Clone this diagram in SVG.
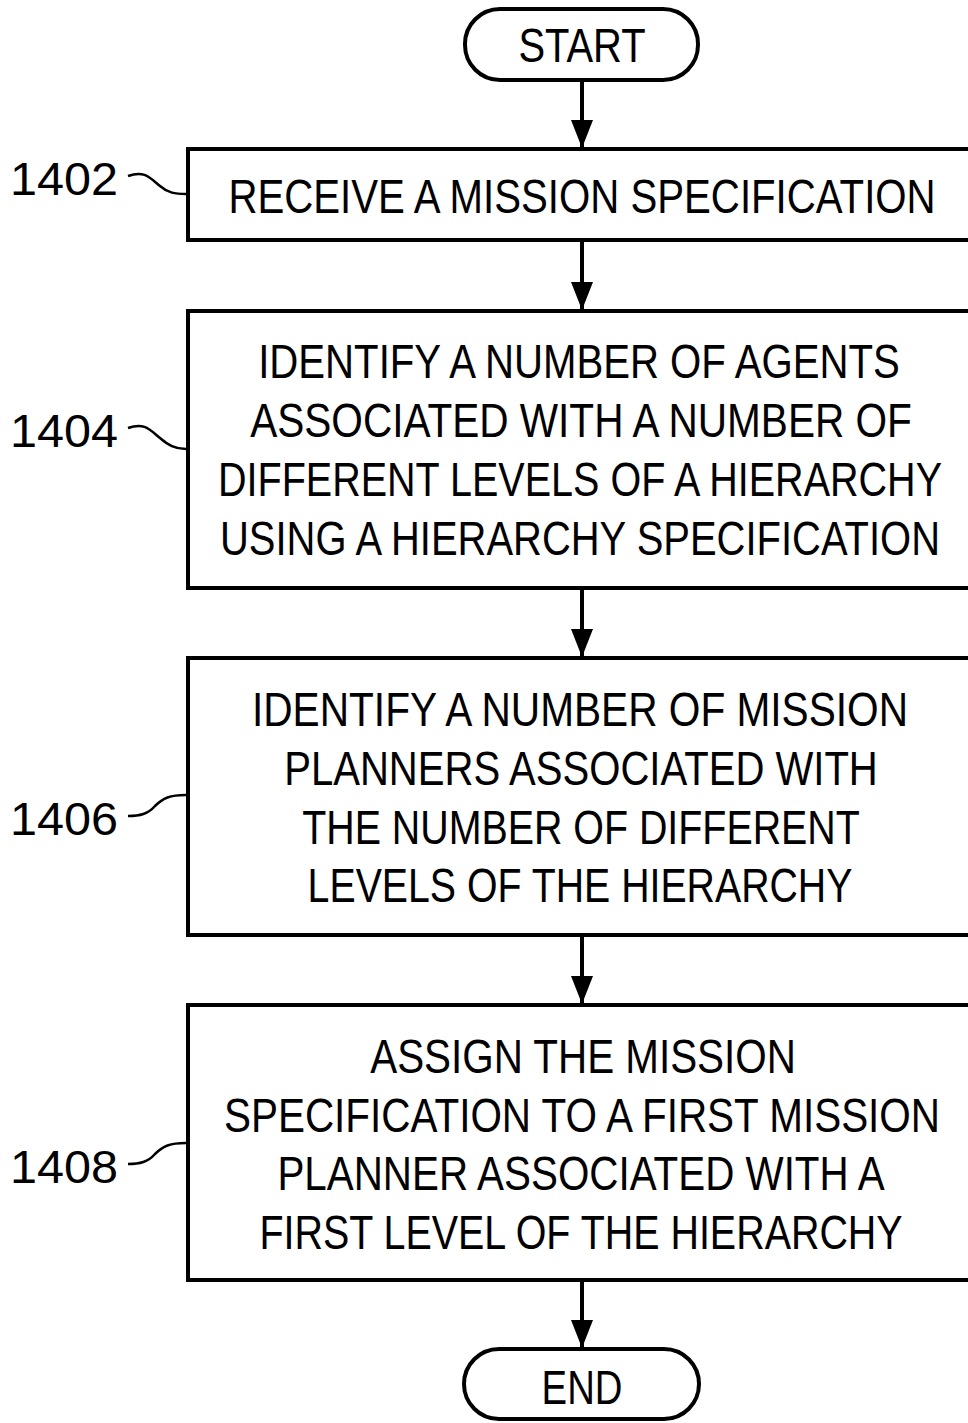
<svg xmlns="http://www.w3.org/2000/svg" width="968" height="1423" viewBox="0 0 968 1423">
<style>
.box{fill:#fff;stroke:#000;stroke-width:4}
.term{fill:#fff;stroke:#000;stroke-width:4}
.t{font-family:"Liberation Sans",Arial,sans-serif;font-size:48px;fill:#000;text-anchor:middle}
.lbl{font-family:"Liberation Sans",Arial,sans-serif;font-size:47px;fill:#000}
.conn{stroke:#000;stroke-width:4;fill:none}
.sq{stroke:#000;stroke-width:2.5;fill:none}
</style>
<defs>
<marker id="ah" markerUnits="userSpaceOnUse" markerWidth="28" markerHeight="22" refX="27" refY="11" orient="auto" viewBox="0 0 28 22">
<path d="M0,0 L28,11 L0,22 Z" fill="#000"/>
</marker>
</defs>
<g id="connectors">
<line class="conn" x1="582" y1="81" x2="582" y2="147" marker-end="url(#ah)"/>
<line class="conn" x1="582" y1="242" x2="582" y2="309" marker-end="url(#ah)"/>
<line class="conn" x1="582" y1="590" x2="582" y2="656" marker-end="url(#ah)"/>
<line class="conn" x1="582" y1="937" x2="582" y2="1003" marker-end="url(#ah)"/>
<line class="conn" x1="582" y1="1282" x2="582" y2="1347" marker-end="url(#ah)"/>
</g>
<g id="start">
<rect class="term" x="465" y="9" width="233" height="71" rx="35" ry="35"/>
<text class="t" transform="translate(582,62) scale(0.8,1)" x="0" y="0" textLength="159" lengthAdjust="spacingAndGlyphs">START</text>
</g>
<g id="n1402">
<path class="box" d="M968,149 H188 V240 H968"/>
<text class="t" transform="translate(582,213) scale(0.8,1)" x="0" y="0" textLength="884" lengthAdjust="spacingAndGlyphs">RECEIVE A MISSION SPECIFICATION</text>
<text class="lbl" x="10" y="195" textLength="108" lengthAdjust="spacingAndGlyphs">1402</text>
<path class="sq" d="M128,176 C145,170 150,178 160,186 C168,193 175,194 186,194"/>
</g>
<g id="n1404">
<path class="box" d="M968,311 H188 V588 H968"/>
<text class="t" transform="translate(579,378) scale(0.8,1)" x="0" y="0" textLength="802" lengthAdjust="spacingAndGlyphs">IDENTIFY A NUMBER OF AGENTS</text>
<text class="t" transform="translate(581,437) scale(0.8,1)" x="0" y="0" textLength="827" lengthAdjust="spacingAndGlyphs">ASSOCIATED WITH A NUMBER OF</text>
<text class="t" transform="translate(580,496) scale(0.8,1)" x="0" y="0" textLength="905" lengthAdjust="spacingAndGlyphs">DIFFERENT LEVELS OF A HIERARCHY</text>
<text class="t" transform="translate(580,555) scale(0.8,1)" x="0" y="0" textLength="900" lengthAdjust="spacingAndGlyphs">USING A HIERARCHY SPECIFICATION</text>
<text class="lbl" x="10" y="447" textLength="108" lengthAdjust="spacingAndGlyphs">1404</text>
<path class="sq" d="M128,428 C145,422 150,430 160,438 C168,445 175,449 186,449"/>
</g>
<g id="n1406">
<path class="box" d="M968,658 H188 V935 H968"/>
<text class="t" transform="translate(580,726) scale(0.8,1)" x="0" y="0" textLength="820" lengthAdjust="spacingAndGlyphs">IDENTIFY A NUMBER OF MISSION</text>
<text class="t" transform="translate(581,785) scale(0.8,1)" x="0" y="0" textLength="742" lengthAdjust="spacingAndGlyphs">PLANNERS ASSOCIATED WITH</text>
<text class="t" transform="translate(581,844) scale(0.8,1)" x="0" y="0" textLength="697" lengthAdjust="spacingAndGlyphs">THE NUMBER OF DIFFERENT</text>
<text class="t" transform="translate(580,902) scale(0.8,1)" x="0" y="0" textLength="681" lengthAdjust="spacingAndGlyphs">LEVELS OF THE HIERARCHY</text>
<text class="lbl" x="10" y="835" textLength="108" lengthAdjust="spacingAndGlyphs">1406</text>
<path class="sq" d="M128,816 C140,816 148,814 155,806 C163,798 170,795 186,795"/>
</g>
<g id="n1408">
<path class="box" d="M968,1005 H188 V1280 H968"/>
<text class="t" transform="translate(583,1073) scale(0.8,1)" x="0" y="0" textLength="532" lengthAdjust="spacingAndGlyphs">ASSIGN THE MISSION</text>
<text class="t" transform="translate(582,1132) scale(0.8,1)" x="0" y="0" textLength="895" lengthAdjust="spacingAndGlyphs">SPECIFICATION TO A FIRST MISSION</text>
<text class="t" transform="translate(581,1190) scale(0.8,1)" x="0" y="0" textLength="759" lengthAdjust="spacingAndGlyphs">PLANNER ASSOCIATED WITH A</text>
<text class="t" transform="translate(581,1249) scale(0.8,1)" x="0" y="0" textLength="804" lengthAdjust="spacingAndGlyphs">FIRST LEVEL OF THE HIERARCHY</text>
<text class="lbl" x="10" y="1183" textLength="108" lengthAdjust="spacingAndGlyphs">1408</text>
<path class="sq" d="M128,1164 C140,1164 148,1162 155,1154 C163,1146 170,1143 186,1143"/>
</g>
<g id="end">
<rect class="term" x="464" y="1349" width="235" height="70" rx="35" ry="35"/>
<text class="t" transform="translate(582,1404) scale(0.8,1)" x="0" y="0" textLength="101" lengthAdjust="spacingAndGlyphs">END</text>
</g>
</svg>
